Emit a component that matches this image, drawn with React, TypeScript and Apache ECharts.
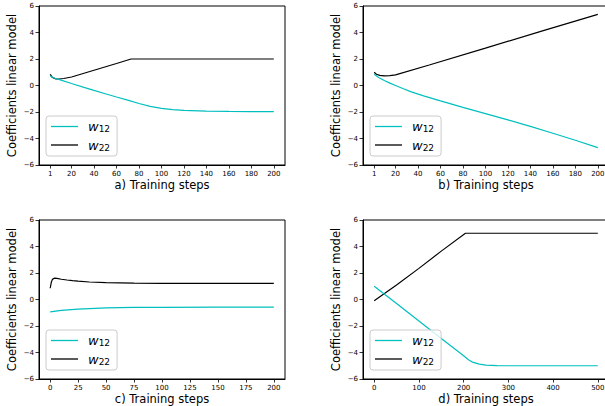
import React, { useEffect, useRef } from 'react';
import * as echarts from 'echarts';

// ---- data ----
const stepsA_w12 = [1, 5, 10, 20, 31, 40, 50, 60, 70, 80, 90, 100, 110, 120, 140, 160, 180, 200];
const valsA_w12 = [0.72, 0.55, 0.42, 0.15, -0.14, -0.37, -0.62, -0.87, -1.1, -1.36, -1.58, -1.73, -1.82, -1.88, -1.94, -1.96, -1.97, -1.97];
const stepsA_w22 = [1, 3, 6, 9, 13, 20, 40, 60, 73, 100, 150, 200];
const valsA_w22 = [0.85, 0.6, 0.5, 0.49, 0.53, 0.64, 1.15, 1.66, 2.0, 2.0, 2.0, 2.0];

const stepsB_w12 = [1, 5, 10, 15, 20, 27, 34, 45, 60, 80, 100, 120, 140, 160, 180, 200];
const valsB_w12 = [0.85, 0.6, 0.38, 0.18, 0.0, -0.25, -0.48, -0.78, -1.16, -1.65, -2.12, -2.6, -3.08, -3.6, -4.13, -4.69];
const stepsB_w22 = [1, 3, 6, 10, 15, 20, 50, 100, 150, 200];
const valsB_w22 = [1.0, 0.85, 0.76, 0.72, 0.74, 0.8, 1.55, 2.82, 4.1, 5.37];

const stepsC_w12 = [0, 10, 25, 50, 75, 100, 150, 200];
const valsC_w12 = [-0.93, -0.82, -0.72, -0.63, -0.6, -0.59, -0.58, -0.58];
const stepsC_w22 = [0, 1, 2, 4, 6, 10, 15, 20, 25, 35, 50, 75, 100, 150, 200];
const valsC_w22 = [0.85, 1.3, 1.52, 1.62, 1.6, 1.53, 1.47, 1.42, 1.38, 1.32, 1.27, 1.23, 1.22, 1.21, 1.21];

const stepsD_w12 = [0, 50, 100, 150, 200, 210, 220, 235, 250, 275, 300, 400, 500];
const valsD_w12 = [1.0, -0.3, -1.62, -2.95, -4.25, -4.53, -4.73, -4.88, -4.95, -4.99, -5.0, -5.0, -5.0];
const stepsD_w22 = [0, 50, 100, 150, 204, 250, 300, 400, 500];
const valsD_w22 = [-0.1, 1.1, 2.35, 3.65, 5.0, 5.0, 5.0, 5.0, 5.0];

const xTicksAB = [1, 20, 40, 60, 80, 100, 120, 140, 160, 180, 200];
const xTicksC = [0, 25, 50, 75, 100, 125, 150, 175, 200];
const xTicksD = [0, 100, 200, 300, 400, 500];
const xTitles = ['a) Training steps', 'b) Training steps', 'c) Training steps', 'd) Training steps'];
const yTitle = 'Coefficients linear model';
const seriesNames = ['w12', 'w22'];

const CYAN = '#00bfbf';
const BLACK = '#000000';
const FONT = 'DejaVu Sans';

const pairs = (xs: number[], ys: number[]) => xs.map((x, i) => [x, ys[i]]);

export default function App() {
  const ref = useRef<HTMLDivElement>(null);
  useEffect(() => {
    if (!ref.current) return;
    const chart = echarts.init(ref.current, null, { renderer: 'svg' });
    const grids = [
      { left: 39, top: 6, width: 246, height: 159 },
      { left: 363, top: 6, width: 246, height: 159 },
      { left: 39, top: 220, width: 246, height: 159 },
      { left: 363, top: 220, width: 246, height: 159 },
    ];
    const xRanges = [
      [-8.95, 209.95, xTicksAB],
      [-8.95, 209.95, xTicksAB],
      [-10, 210, xTicksC],
      [-25, 525, xTicksD],
    ] as [number, number, number[]][];
    const legendPos = [
      [46, 116],
      [370, 116],
      [46, 330],
      [370, 330],
    ];
    const data = [
      [pairs(stepsA_w12, valsA_w12), pairs(stepsA_w22, valsA_w22)],
      [pairs(stepsB_w12, valsB_w12), pairs(stepsB_w22, valsB_w22)],
      [pairs(stepsC_w12, valsC_w12), pairs(stepsC_w22, valsC_w22)],
      [pairs(stepsD_w12, valsD_w12), pairs(stepsD_w22, valsD_w22)],
    ];
    const tickLabel = { fontFamily: FONT, fontSize: 7, color: '#000', margin: 5 };
    const option: any = {
      animation: false,
      grid: grids.map((g) => ({
        ...g,
        show: true,
        borderColor: '#000',
        borderWidth: 1,
        containLabel: false,
        outerBoundsMode: 'none',
      })),
      xAxis: xRanges.map(([min, max, ticks], i) => ({
        type: 'value',
        gridIndex: i,
        min,
        max,
        name: xTitles[i],
        nameLocation: 'middle',
        nameGap: 13.5,
        nameMoveOverlap: false,
        nameTextStyle: { fontFamily: FONT, fontSize: 11.5, color: '#000' },
        axisLine: { show: true, onZero: false, lineStyle: { color: '#000', width: 1 } },
        axisTick: { show: true, length: 3.5, lineStyle: { color: '#000', width: 0.8 }, customValues: ticks },
        axisLabel: { ...tickLabel, customValues: ticks, formatter: (v: number) => String(v) },
        splitLine: { show: false },
      })),
      yAxis: grids.map((_, i) => ({
        type: 'value',
        gridIndex: i,
        min: -6,
        max: 6,
        interval: 2,
        name: yTitle,
        nameLocation: 'middle',
        nameGap: 21,
        nameMoveOverlap: false,
        nameTextStyle: { fontFamily: FONT, fontSize: 11.5, color: '#000' },
        axisLine: { show: true, onZero: false, lineStyle: { color: '#000', width: 1 } },
        axisTick: { show: true, length: 3.5, lineStyle: { color: '#000', width: 0.8 } },
        axisLabel: {
          ...tickLabel,
          showMinLabel: true,
          showMaxLabel: true,
          formatter: (v: number) => (v < 0 ? '\u2212' + Math.abs(v) : String(v)),
        },
        splitLine: { show: false },
      })),
      legend: legendPos.map(([l, t]) => ({
        left: l,
        top: t,
        orient: 'vertical',
        padding: [4, 7, 4, 5],
        itemGap: 5,
        itemWidth: 27,
        itemHeight: 14,
        icon: 'path://M0,0L27,0L27,1.3L0,1.3Z',
        backgroundColor: 'rgba(255,255,255,0.8)',
        borderColor: '#cccccc',
        borderWidth: 1,
        borderRadius: 3,
        data: seriesNames,
        formatter: (n: string) => `{w|w}{s|${n.slice(1)}}`,
        textStyle: {
          color: '#000',
          rich: {
            w: { fontFamily: FONT, fontStyle: 'italic', fontSize: 13, color: '#000', padding: [0, 0, 0, 5], lineHeight: 14 },
            s: { fontFamily: FONT, fontSize: 9, color: '#000', verticalAlign: 'bottom', lineHeight: 9 },
          },
        },
      })),
      series: data.flatMap((pair, i) =>
        pair.map((d, k) => ({
          type: 'line',
          name: seriesNames[k],
          xAxisIndex: i,
          yAxisIndex: i,
          data: d,
          symbol: 'none',
          showSymbol: false,
          smooth: false,
          lineStyle: { color: k === 0 ? CYAN : BLACK, width: 1.2 },
          itemStyle: { color: k === 0 ? CYAN : BLACK },
          z: k === 0 ? 3 : 2,
        }))
      ),
    };
    chart.setOption(option);
    return () => chart.dispose();
  }, []);
  return <div ref={ref} style={{ position: 'absolute', left: 0, top: 0, width: 605, height: 406 }} />;
}
